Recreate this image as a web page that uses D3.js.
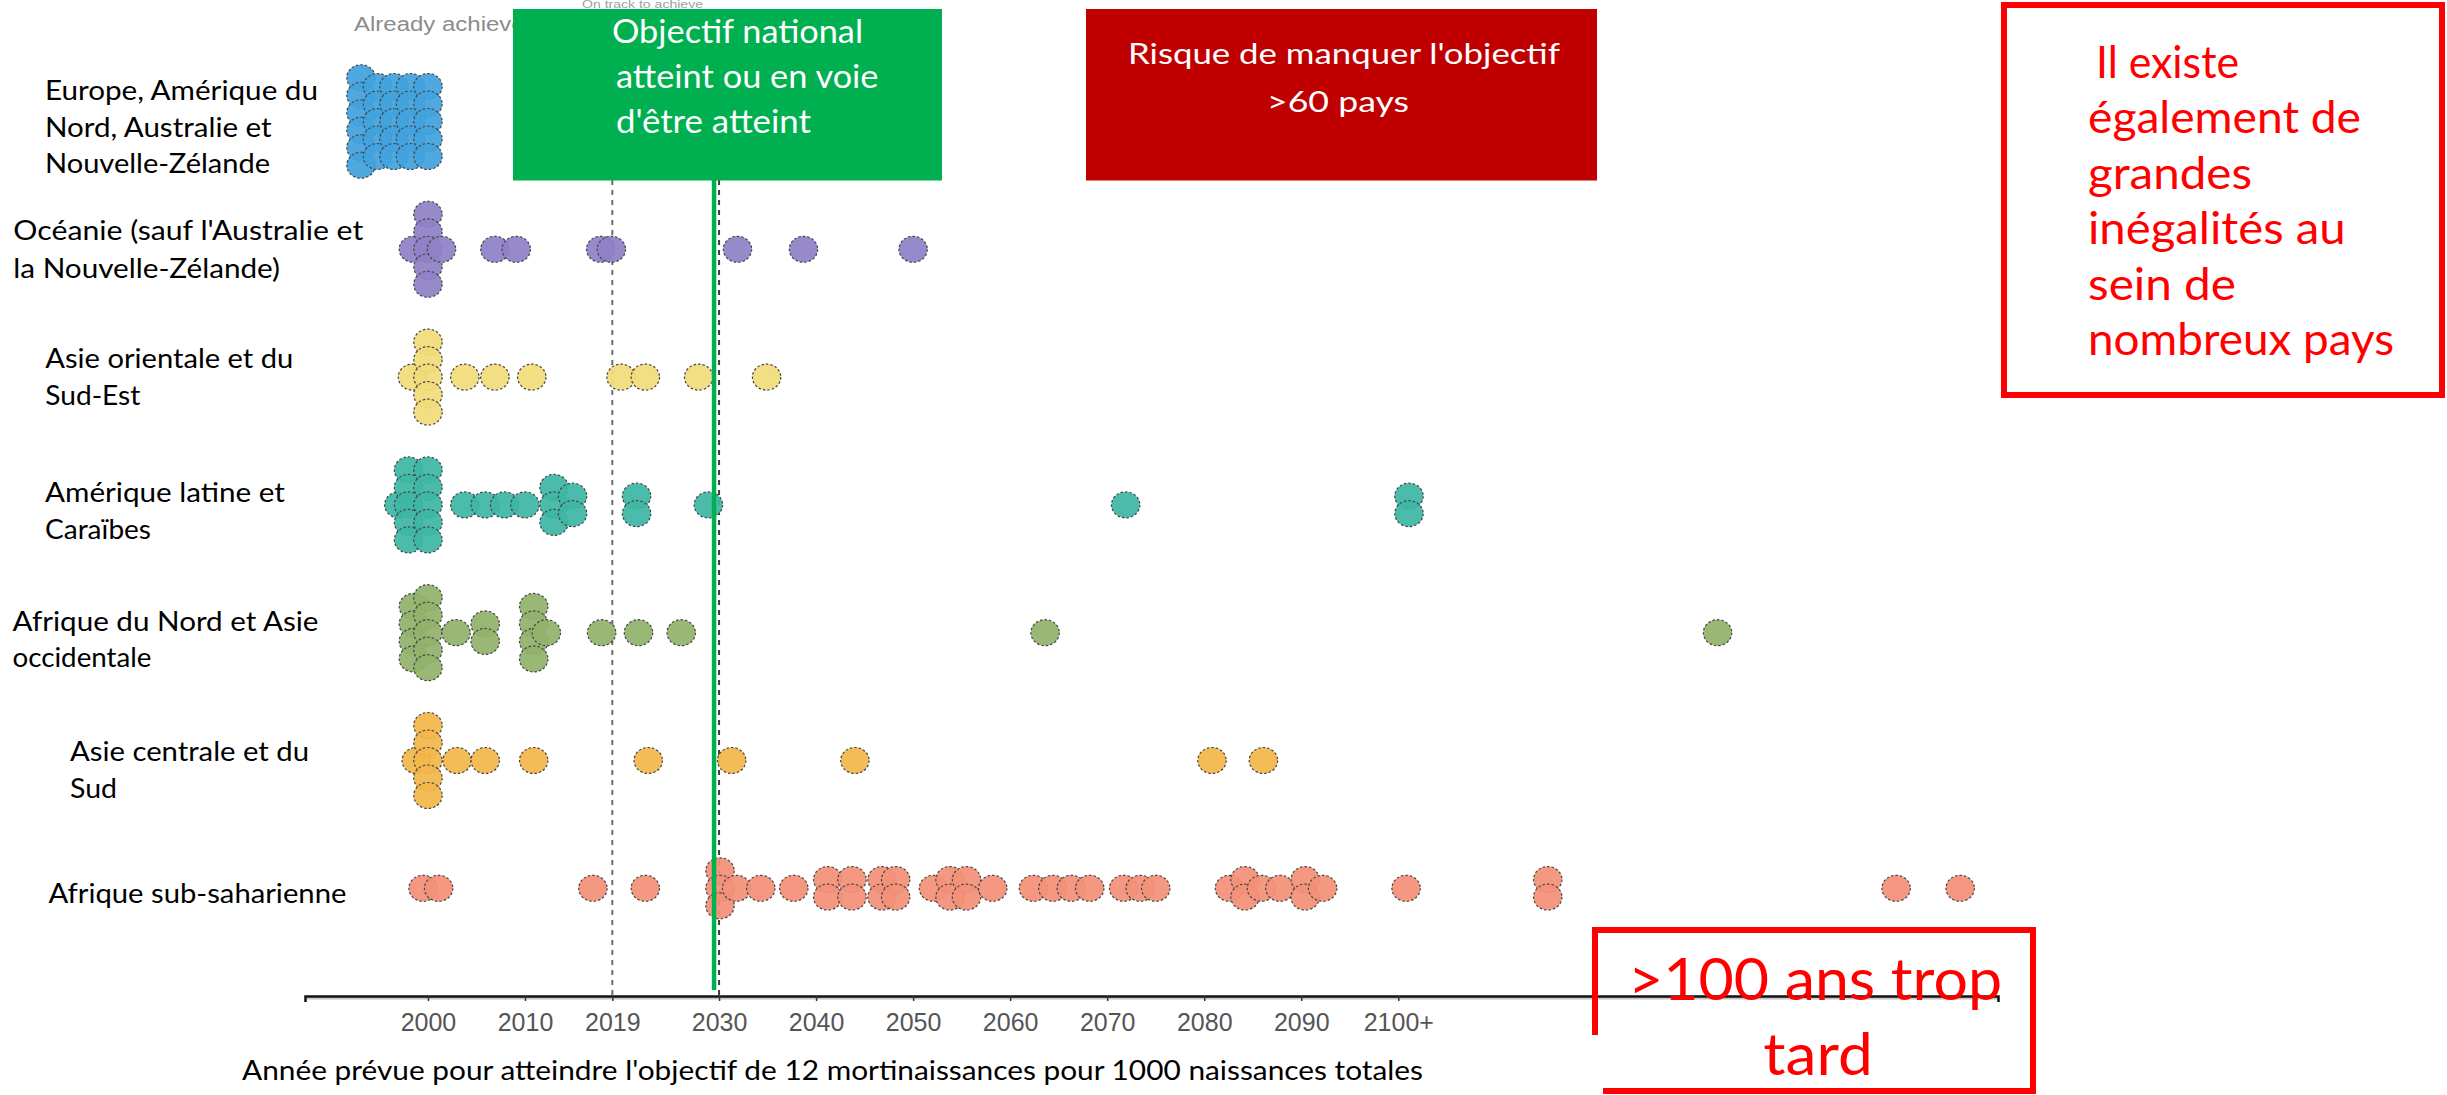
<!DOCTYPE html>
<html>
<head>
<meta charset="utf-8">
<script src="https://cdn.jsdelivr.net/npm/d3@7"></script>
<style>
  html, body { margin: 0; padding: 0; background: #fff; overflow: hidden; }
  svg { display: block; }
</style>
</head>
<body>
<svg id="chart" width="2447" height="1095"></svg>
<script>
// ---- Data -------------------------------------------------------------
// Regions (rows, top to bottom)
const regions = [
  "Europe, Amérique du Nord, Australie et Nouvelle-Zélande",
  "Océanie (sauf l'Australie et la Nouvelle-Zélande)",
  "Asie orientale et du Sud-Est",
  "Amérique latine et Caraïbes",
  "Afrique du Nord et Asie occidentale",
  "Asie centrale et du Sud",
  "Afrique sub-saharienne"
];

// Row labels, as they are broken over lines
const regionLabelLines = [
  ["Europe,  Amérique  du", "Nord,  Australie et", "Nouvelle-Zélande"],
  ["Océanie (sauf l'Australie et", "la Nouvelle-Zélande)"],
  ["Asie orientale et du", "Sud-Est"],
  ["Amérique  latine et", "Caraïbes"],
  ["Afrique du Nord et Asie", "occidentale"],
  ["Asie centrale et du", "Sud"],
  ["Afrique sub-saharienne"]
];

// Projected year each country reaches 12 stillbirths per 1000 total births
// (one entry per country; equal values stack in one column)
const europeYears = [
  1993.1, 1993.1, 1993.1, 1993.1, 1993.1, 1993.1,
  1994.8, 1994.8, 1994.8, 1994.8, 1994.8,
  1996.5, 1996.5, 1996.5, 1996.5, 1996.5,
  1998.2, 1998.2, 1998.2, 1998.2, 1998.2,
  2000.0, 2000.0, 2000.0, 2000.0, 2000.0
];
const oceaniaYears = [
  1998.5, 2000.0, 2000.0, 2000.0, 2000.0, 2000.0, 2001.4,
  2006.9, 2009.1, 2017.8, 2018.9, 2031.9, 2038.7, 2050.0
];
const eastAsiaYears = [
  1998.4, 2000.0, 2000.0, 2000.0, 2000.0, 2000.0,
  2003.8, 2006.9, 2010.7, 2019.9, 2022.4, 2027.9, 2034.9
];
const latinAmericaYears = [
  1997.0,
  1998.0, 1998.0, 1998.0, 1998.0, 1998.0,
  2000.0, 2000.0, 2000.0, 2000.0, 2000.0,
  2003.8, 2005.9, 2007.9, 2010.0,
  2013.0, 2013.0, 2013.0, 2014.9, 2014.9,
  2021.5, 2021.5, 2028.9, 2071.9, 2101.1, 2101.1
];
const northAfricaYears = [
  1998.5, 1998.5, 1998.5, 1998.5,
  2000.0, 2000.0, 2000.0, 2000.0, 2000.0,
  2002.9, 2005.9, 2005.9,
  2010.9, 2010.9, 2010.9, 2010.9, 2012.2,
  2017.9, 2021.7, 2026.1, 2063.6, 2132.9
];
const centralAsiaYears = [
  1998.8, 2000.0, 2000.0, 2000.0, 2000.0, 2000.0,
  2003.0, 2005.9, 2010.9, 2022.7, 2031.3, 2044.0, 2080.8, 2086.1
];
const subSaharanYears = [
  1999.5, 2001.1, 2017.0, 2022.4,
  2030.1, 2030.1, 2030.1, 2031.8, 2034.3, 2037.7,
  2041.2, 2041.2, 2043.7, 2043.7, 2046.8, 2046.8, 2048.2, 2048.2,
  2052.1, 2053.8, 2053.8, 2055.5, 2055.5, 2058.2,
  2062.4, 2064.4, 2066.3, 2068.2,
  2071.7, 2073.4, 2075.0,
  2082.6, 2084.2, 2084.2, 2085.9, 2087.8, 2090.4, 2090.4, 2092.2,
  2100.8, 2115.4, 2115.4, 2151.3, 2157.9
];
const regionYears = [
  europeYears, oceaniaYears, eastAsiaYears, latinAmericaYears,
  northAfricaYears, centralAsiaYears, subSaharanYears
];
const regionColors = ["#42a3de", "#8e81c6", "#f1dc7a", "#3db7a5", "#91b36c", "#f2b74a", "#f39079"];

// Axis ticks
const tickYears  = [2000, 2010, 2019, 2030, 2040, 2050, 2060, 2070, 2080, 2090, 2100];
const tickLabels = ["2000", "2010", "2019", "2030", "2040", "2050", "2060", "2070", "2080", "2090", "2100+"];
const referenceYears = [2019, 2030];
const targetYear = 2030;

// ---- Scales -------------------------------------------------------------
const svg = d3.select("#chart");
const x = d3.scaleLinear().domain([1987.33, 2161.8]).range([305, 1998]);
const y = d3.scalePoint().domain(regions).range([121.5, 888.3]);
const color = d3.scaleOrdinal().domain(regions).range(regionColors);

const AXIS_Y = 996;
const STACK = 17.5;      // vertical step between stacked dots
const RX = 14.2, RY = 13;

function addText(g, str, px, py, opts) {
  const t = g.append("text")
    .attr("x", px).attr("y", py)
    .attr("font-family", opts.family || "Lato, 'Open Sans', sans-serif")
    .attr("font-size", opts.size)
    .attr("fill", opts.fill || "#000")
    .attr("text-anchor", opts.anchor || "start")
    .text(str);
  if (opts.len) t.attr("textLength", opts.len).attr("lengthAdjust", "spacingAndGlyphs");
  return t;
}

// ---- Column headers of the original chart --------------------------------
const head = svg.append("g");
addText(head, "Already achieved", 354, 30.7, { size: 20, fill: "#8c8c8c", family: "'Liberation Sans', Arial, sans-serif", len: 184 });
addText(head, "On track to achieve", 582, 8, { size: 10, fill: "#a0a0a0", family: "'Liberation Sans', Arial, sans-serif", len: 121 });

// ---- Reference lines ----------------------------------------------------
svg.append("g").selectAll("line")
  .data(referenceYears)
  .join("line")
  .attr("x1", d => x(d)).attr("x2", d => x(d))
  .attr("y1", 10).attr("y2", AXIS_Y)
  .attr("stroke", d => d === 2019 ? "#6d6d6d" : "#3c3c3c")
  .attr("stroke-width", 2)
  .attr("stroke-dasharray", "5,5");

// ---- Dots (stacked per identical year, centred on the row) -------------
const dots = [];
regionYears.forEach((years, r) => {
  d3.groups(years, d => d).forEach(([yr, arr]) => {
    arr.forEach((_, i) => dots.push({ region: regions[r], year: yr, slot: i - (arr.length - 1) / 2 }));
  });
});
dots.sort((a, b) => d3.ascending(a.year, b.year) || d3.ascending(a.slot, b.slot));

svg.append("g").selectAll("ellipse")
  .data(dots)
  .join("ellipse")
  .attr("cx", d => x(d.year))
  .attr("cy", d => y(d.region) + d.slot * STACK)
  .attr("rx", RX).attr("ry", RY)
  .attr("fill", d => color(d.region))
  .attr("fill-opacity", 0.93)
  .attr("stroke", "#454545")
  .attr("stroke-width", 1.2)
  .attr("stroke-dasharray", "2.5,2");

// ---- National target line -----------------------------------------------
svg.append("line")
  .attr("x1", x(targetYear) - 5).attr("x2", x(targetYear) - 5)
  .attr("y1", 180).attr("y2", 990)
  .attr("stroke", "#00b050").attr("stroke-width", 4.5);

// ---- Axis -----------------------------------------------------------------
svg.append("line")
  .attr("x1", 305).attr("x2", 1998).attr("y1", AXIS_Y + 2.5).attr("y2", AXIS_Y + 2.5)
  .attr("stroke", "#c4c4c4").attr("stroke-width", 2);
const axis = svg.append("g")
  .attr("transform", `translate(0,${AXIS_Y})`)
  .call(d3.axisBottom(x).tickValues(tickYears).tickFormat((d, i) => tickLabels[i]).tickSize(5).tickSizeOuter(6));
axis.select(".domain").attr("stroke", "#111").attr("stroke-width", 2.5);
axis.selectAll(".tick line").attr("stroke", "#333").attr("stroke-width", 1.5);
axis.selectAll(".tick text")
  .attr("y", 17)
  .attr("fill", "#555")
  .attr("font-size", 25)
  .attr("font-family", "'Liberation Sans', Arial, sans-serif");

addText(svg, "Année prévue pour atteindre l'objectif de 12 mortinaissances pour 1000 naissances totales",
  242, 1080, { size: 26, len: 1181 });

// ---- Row labels -------------------------------------------------------------
const labelLayout = [
  { x: 45,   base: 100,   step: 36.7, lens: [273, 226.7, 225] },
  { x: 13.3, base: 240,   step: 38.3, lens: [350, 266.7] },
  { x: 45.3, base: 367.5, step: 37.5, lens: [248, 95] },
  { x: 45,   base: 501.5, step: 37.5, lens: [240, 106] },
  { x: 12.5, base: 631,   step: 36,   lens: [306, 139] },
  { x: 70,   base: 760.5, step: 37.5, lens: [239, 47] },
  { x: 48.4, base: 902.5, step: 37.5, lens: [298] }
];
const labels = svg.append("g");
regionLabelLines.forEach((lines, r) => {
  const L = labelLayout[r];
  lines.forEach((ln, i) => addText(labels, ln, L.x, L.base + i * L.step, { size: 27, len: L.lens[i] }));
});

// ---- Annotation boxes -----------------------------------------------------
const notes = svg.append("g");
// green: target reached or on track
notes.append("rect").attr("x", 513).attr("y", 9).attr("width", 429).attr("height", 171.5).attr("fill", "#00b050");
addText(notes, "Objectif national", 612, 42.7, { size: 32, fill: "#fff", len: 251 });
addText(notes, "atteint ou en voie", 616, 88.3, { size: 32, fill: "#fff", len: 262.5 });
addText(notes, "d'être atteint", 616, 132.7, { size: 32, fill: "#fff", len: 195 });

// dark red: at risk of missing the target
notes.append("rect").attr("x", 1086).attr("y", 9).attr("width", 511).attr("height", 171.5).attr("fill", "#c00000");
addText(notes, "Risque de manquer l'objectif", 1344, 64, { size: 29, fill: "#fff", anchor: "middle", len: 432 });
addText(notes, ">60 pays", 1338, 112, { size: 29, fill: "#fff", anchor: "middle", len: 142 });

// red outline: inequalities within countries
notes.append("rect").attr("x", 2004).attr("y", 5).attr("width", 438).attr("height", 390)
  .attr("fill", "none").attr("stroke", "#ff0000").attr("stroke-width", 6);
const ineq = [
  ["Il existe", 2096, 78, 143],
  ["également de", 2088, 133, 273],
  ["grandes", 2088, 188.5, 164],
  ["inégalités au", 2088, 244, 257.6],
  ["sein de", 2088, 299.5, 148],
  ["nombreux pays", 2088, 355, 306]
];
ineq.forEach(([s, px, py, len]) => addText(notes, s, px, py, { size: 45, fill: "#ff0000", len }));

// red outline: more than a century late
notes.append("path")
  .attr("d", "M1595,1035 V930 H2033 V1091 H1603")
  .attr("fill", "none").attr("stroke", "#ff0000").attr("stroke-width", 6);
addText(notes, ">100 ans trop", 1815, 1000, { size: 58, fill: "#ff0000", anchor: "middle", len: 374 });
addText(notes, "tard", 1818, 1075, { size: 58, fill: "#ff0000", anchor: "middle", len: 109.5 });
</script>
</body>
</html>
